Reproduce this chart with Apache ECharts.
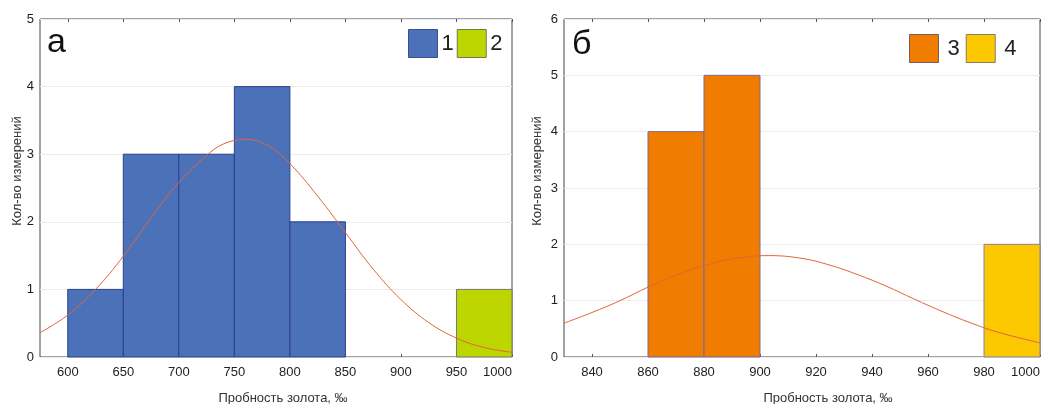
<!DOCTYPE html>
<html>
<head>
<meta charset="utf-8">
<script src="https://cdn.jsdelivr.net/npm/echarts@6/dist/echarts.min.js"></script>
<style>html,body{margin:0;padding:0;background:#fff;}#c{width:1045px;height:404px;}</style>
</head>
<body>
<div id="c"></div>
<script>
// ---- Data ----
const leftEdges1 = [600, 650, 700, 750, 800, 850];
const leftCounts1 = [1, 3, 3, 4, 2];
const leftEdges2 = [950, 1000];
const leftCounts2 = [1];
const leftCurveX = [575, 600, 625, 650, 675, 700, 725, 740, 760, 780, 800, 825, 850, 875, 900, 925, 950, 975, 1000];
const leftCurveY = [0.36, 0.62, 1.0, 1.49, 2.06, 2.58, 2.98, 3.15, 3.22, 3.13, 2.86, 2.38, 1.84, 1.30, 0.85, 0.51, 0.28, 0.14, 0.07];
const leftTicks = [600, 650, 700, 750, 800, 850, 900, 950, 1000];

const rightEdges3 = [860, 880, 900];
const rightCounts3 = [4, 5];
const rightEdges4 = [980, 1000];
const rightCounts4 = [2];
const rightCurveX = [830, 840, 850, 860, 870, 880, 890, 903, 915, 925, 935, 945, 955, 965, 975, 985, 1000];
const rightCurveY = [0.6, 0.79, 1.0, 1.24, 1.45, 1.62, 1.74, 1.8, 1.75, 1.63, 1.46, 1.26, 1.03, 0.81, 0.61, 0.44, 0.25];
const rightTicks = [840, 860, 880, 900, 920, 940, 960, 980, 1000];

const xTitle = 'Пробность золота, ‰';
const yTitle = 'Кол-во измерений';

// ---- helpers ----
function bins(edges, counts) {
  return counts.map((c, i) => [edges[i], edges[i + 1], c]);
}
function pairs(xs, ys) { return xs.map((x, i) => [x, ys[i]]); }
function histSeries(name, xi, yi, data, color, border, bw) {
  return {
    type: 'custom', name: name, xAxisIndex: xi, yAxisIndex: yi,
    itemStyle: { color: color, borderColor: border },
    encode: { x: [0, 1], y: 2 },
    data: data,
    renderItem: function (params, api) {
      const p0 = api.coord([api.value(0), api.value(2)]);
      const p1 = api.coord([api.value(1), 0]);
      return {
        type: 'rect',
        shape: { x: p0[0], y: p0[1], width: p1[0] - p0[0], height: p1[1] - p0[1] },
        style: { fill: color, stroke: border, lineWidth: bw }
      };
    }
  };
}
const FONT = 'Liberation Sans, Arial, sans-serif';
function xAxes(grid, min, max, ticks, top) {
  return {
    type: 'value', gridIndex: grid, min: min, max: max, position: top ? 'top' : 'bottom',
    axisLine: { show: false },
    axisTick: { show: true, inside: true, length: 3, customValues: ticks, lineStyle: { color: '#555' } },
    axisLabel: { show: !top, customValues: ticks, fontSize: 13, color: '#222', margin: 9, fontFamily: FONT,
      alignMaxLabel: 'right', showMaxLabel: true,
      formatter: function (v) { return String(v); } },
    splitLine: { show: false }
  };
}
function yAxis(grid, max) {
  return {
    type: 'value', gridIndex: grid, min: 0, max: max, interval: 1,
    axisLine: { show: false }, axisTick: { show: false },
    axisLabel: { fontSize: 13, color: '#222', margin: 6, fontFamily: FONT },
    splitLine: { show: true, lineStyle: { color: '#ececec', width: 1 } }
  };
}
function curve(xi, yi, data) {
  return {
    type: 'line', xAxisIndex: xi, yAxisIndex: yi, data: data, smooth: 0.4,
    symbol: 'none', lineStyle: { color: '#e2643a', width: 1 }, z: 5, silent: true
  };
}

const chart = echarts.init(document.getElementById('c'));
chart.setOption({
  animation: false,
  backgroundColor: '#fff',
  grid: [
    { left: 40, top: 19, width: 472, height: 338, show: true, borderColor: '#444', borderWidth: 1, backgroundColor: 'transparent', outerBoundsMode: 'none', containLabel: false },
    { left: 564, top: 19, width: 476, height: 338, show: true, borderColor: '#444', borderWidth: 1, backgroundColor: 'transparent', outerBoundsMode: 'none', containLabel: false }
  ],
  xAxis: [
    xAxes(0, 575, 1000, leftTicks, false),
    xAxes(1, 830, 1000, rightTicks, false),
    xAxes(0, 575, 1000, leftTicks, true),
    xAxes(1, 830, 1000, rightTicks, true)
  ],
  yAxis: [yAxis(0, 5), yAxis(1, 6)],
  legend: [
    {
      left: 408, top: 29, padding: 0, itemWidth: 29, itemHeight: 28, itemGap: 3, icon: 'rect',
      textStyle: { fontSize: 22, color: '#222', fontFamily: FONT, padding: [0, 0, 0, -1] },
      data: [
        { name: '1', itemStyle: { color: '#4b72b9', borderColor: '#3a4f8a', borderWidth: 1 } },
        { name: '2', itemStyle: { color: '#bdd600', borderColor: '#6f7a55', borderWidth: 1 } }
      ]
    },
    {
      left: 909, top: 34, padding: 0, itemWidth: 29, itemHeight: 28, itemGap: 6, icon: 'rect',
      textStyle: { fontSize: 22, color: '#222', fontFamily: FONT, padding: [0, 0, 0, 4] },
      data: [
        { name: '3', itemStyle: { color: '#f07d00', borderColor: '#7a5a60', borderWidth: 1 } },
        { name: '4', itemStyle: { color: '#fcc800', borderColor: '#8a7a60', borderWidth: 1 } }
      ]
    }
  ],
  series: [
    histSeries('1', 0, 0, bins(leftEdges1, leftCounts1), '#4b72b9', '#2c3f8c', 1),
    histSeries('2', 0, 0, bins(leftEdges2, leftCounts2), '#bdd600', '#777777', 1),
    curve(0, 0, pairs(leftCurveX, leftCurveY)),
    histSeries('3', 1, 1, bins(rightEdges3, rightCounts3), '#f07d00', '#7a68a0', 1),
    histSeries('4', 1, 1, bins(rightEdges4, rightCounts4), '#fcc800', '#8a80a8', 1),
    curve(1, 1, pairs(rightCurveX, rightCurveY))
  ],
  graphic: [
    { type: 'text', left: 47, top: 26, style: { text: 'а', font: '34px ' + FONT, fill: '#111' } },
    { type: 'text', left: 572, top: 28, style: { text: 'б', font: '34px ' + FONT, fill: '#111' } },
    { type: 'text', x: 283, y: 398, style: { text: xTitle, font: '13px ' + FONT, fill: '#333', align: 'center', verticalAlign: 'middle' } },
    { type: 'text', x: 828, y: 398, style: { text: xTitle, font: '13px ' + FONT, fill: '#333', align: 'center', verticalAlign: 'middle' } },
    { type: 'text', x: 17, y: 171, rotation: Math.PI / 2, style: { text: yTitle, font: '13px ' + FONT, fill: '#333', align: 'center', verticalAlign: 'middle' } },
    { type: 'text', x: 537, y: 171, rotation: Math.PI / 2, style: { text: yTitle, font: '13px ' + FONT, fill: '#333', align: 'center', verticalAlign: 'middle' } }
  ]
});
</script>
</body>
</html>
